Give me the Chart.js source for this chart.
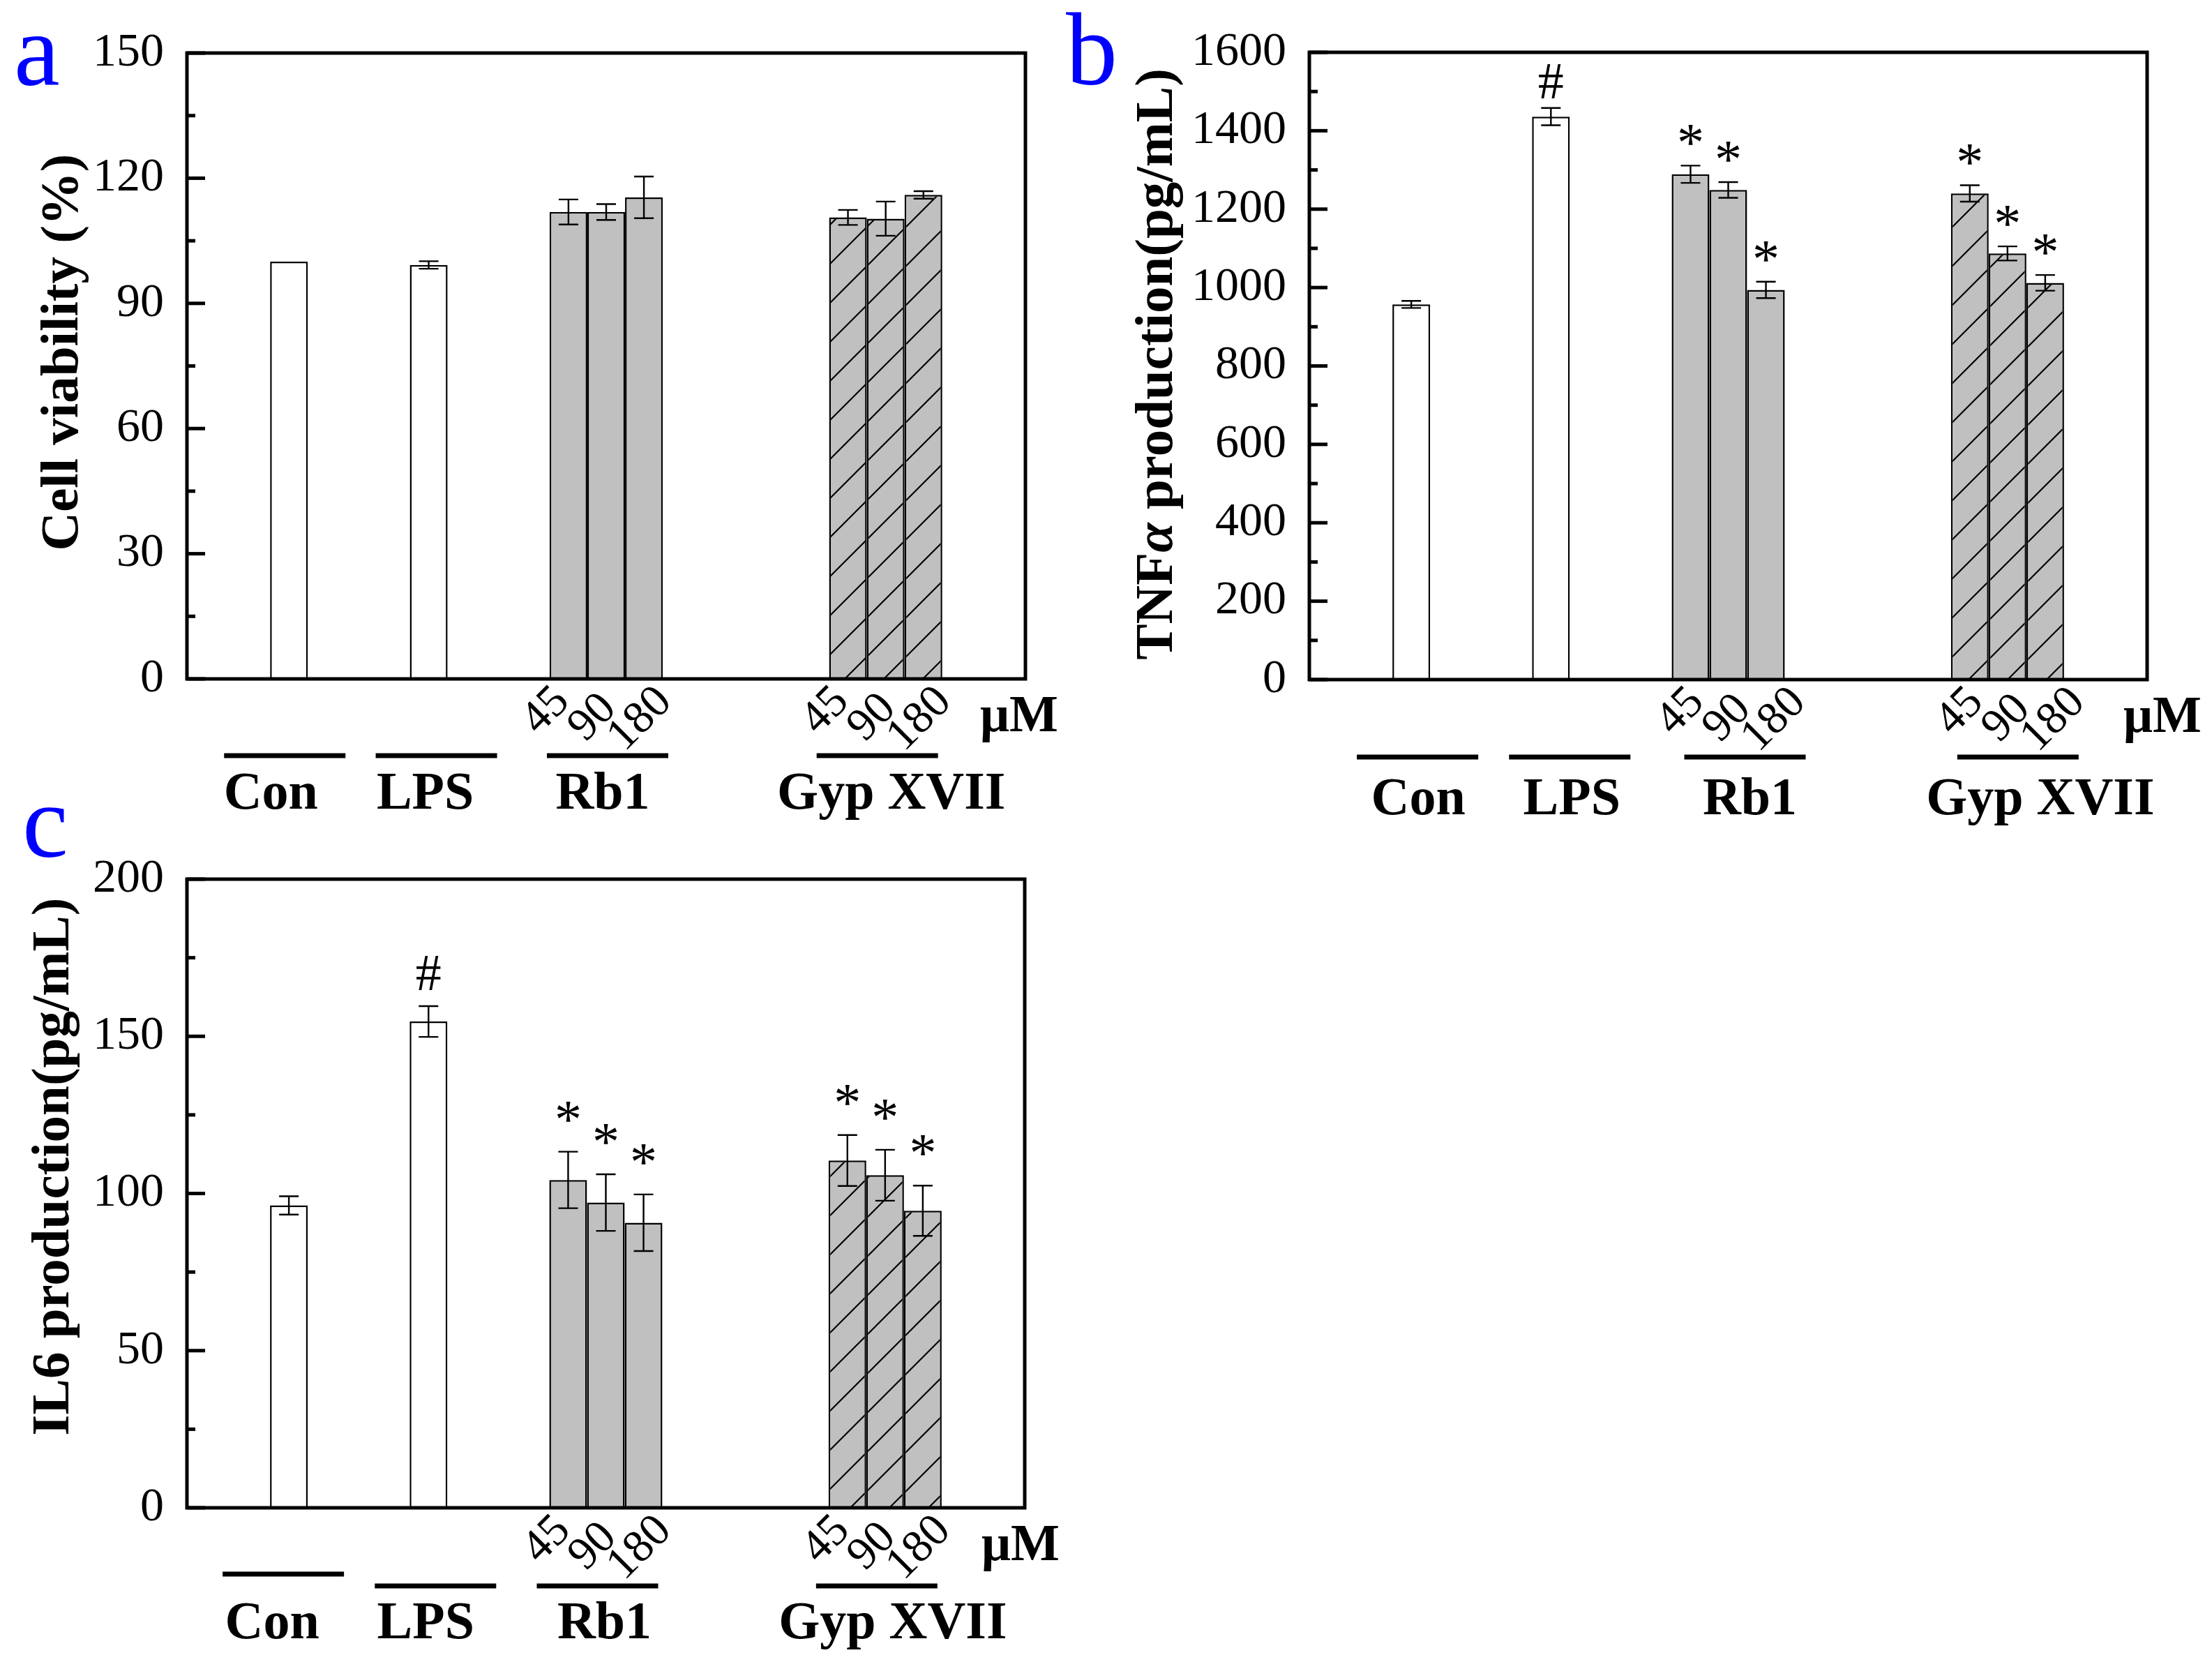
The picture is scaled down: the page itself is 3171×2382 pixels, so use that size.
<!DOCTYPE html>
<html>
<head>
<meta charset="utf-8">
<script src="https://cdn.jsdelivr.net/npm/chart.js@4.4.1/dist/chart.umd.min.js"></script>
<style>
  html, body { margin: 0; padding: 0; background: #fff; }
  body { width: 3171px; height: 2382px; position: relative; overflow: hidden; }
  canvas { position: absolute; }
</style>
</head>
<body>
<canvas id="chart-a" width="1560" height="1180" style="left:0px;top:0px;width:1560px;height:1180px"></canvas>
<canvas id="chart-b" width="1671" height="1200" style="left:1500px;top:0px;width:1671px;height:1200px"></canvas>
<canvas id="chart-c" width="1560" height="1242" style="left:0px;top:1140px;width:1560px;height:1242px"></canvas>
<script>
// x slots: blank slots keep Origin's spacing between the groups
const categories = ["", "Con", "LPS", "Rb1", "", "Gyp XVII", ""];
const groupNames = ["Con", "LPS", "Rb1", "Gyp XVII"];
const doses = ["45", "90", "180"];

// bar order: Con, LPS, Rb1 45/90/180, Gyp XVII 45/90/180
const barGroup = [0, 1, 2, 2, 2, 3, 3, 3];
const barDose = [0, 0, 0, 1, 2, 0, 1, 2];

const viabilityMean = [100, 99.2, 111.9, 111.9, 115.4, 110.6, 110.3, 116.0];
const viabilityErr = [0, 0.9, 3.0, 1.9, 5.0, 1.8, 4.1, 0.9];

const tnfMean = [957, 1436, 1289, 1249, 994, 1240, 1087, 1012];
const tnfErr = [9, 22, 22, 20, 21, 21, 18, 20];
const tnfMarks = ["", "#", "*", "*", "*", "*", "*", "*"];

const il6Mean = [96.2, 154.7, 104.3, 97.1, 90.7, 110.5, 105.8, 94.5];
const il6Err = [2.9, 4.9, 9.0, 9.0, 9.0, 8.1, 8.1, 8.0];
const il6Marks = ["", "#", "*", "*", "*", "*", "*", "*"];

const viabilityTicks = { max: 150, major: 30, minor: 15 };
const tnfTicks = { max: 1600, major: 200, minor: 100 };
const il6Ticks = { max: 200, major: 50, minor: 25 };

const FONT = '"Liberation Serif", "Times New Roman", serif';

function makeHatch() {
    const size = 56;
    const c = document.createElement("canvas");
    c.width = size;
    c.height = size;
    const g = c.getContext("2d");
    g.fillStyle = "#c0c0c0";
    g.fillRect(0, 0, size, size);
    g.strokeStyle = "#000";
    g.lineWidth = 2.2;
    g.beginPath();
    g.moveTo(-4, size + 4); g.lineTo(size + 4, -4);
    g.moveTo(-4, 4); g.lineTo(4, -4);
    g.moveTo(size - 4, size + 4); g.lineTo(size + 4, size - 4);
    g.stroke();
    return g.createPattern(c, "repeat");
}

const hatch = makeHatch();
const groupFill = ["#ffffff", "#ffffff", "#c0c0c0", hatch];

const catOf = (g) => categories.indexOf(groupNames[g]);

// one dataset per dose slot; Con and LPS sit in the first slot
function buildDatasets(mean) {
    return doses.map((d, j) => {
        const values = categories.map(() => null);
        mean.forEach((m, k) => {
            if (barDose[k] === j) values[catOf(barGroup[k])] = m;
        });
        const fills = categories.map((c) => {
            const g = groupNames.indexOf(c);
            return g >= 0 && c !== "" ? groupFill[g] : "rgba(0,0,0,0)";
        });
        return {
            label: d,
            data: values,
            backgroundColor: fills,
            borderColor: "#000",
            borderWidth: 2.5,
            categoryPercentage: 0.81,
            barPercentage: 1.0,
        };
    });
}

function barX(chart, k) {
    return chart.getDatasetMeta(barDose[k]).data[catOf(barGroup[k])].x;
}

const decorPlugin = {
    id: "decor",
    afterDatasetsDraw(chart, args, o) {
        const ctx = chart.ctx;
        const y = chart.scales.y;
        ctx.save();
        ctx.strokeStyle = "#000";
        ctx.fillStyle = "#000";
        ctx.lineWidth = 2.4;
        o.mean.forEach((m, k) => {
            const x = barX(chart, k);
            const e = o.err[k];
            const top = y.getPixelForValue(m + e);
            if (e > 0) {
                const bot = y.getPixelForValue(m - e);
                ctx.beginPath();
                ctx.moveTo(x, top); ctx.lineTo(x, bot);
                ctx.moveTo(x - 14, top); ctx.lineTo(x + 14, top);
                ctx.moveTo(x - 14, bot); ctx.lineTo(x + 14, bot);
                ctx.stroke();
            }
            const mark = o.marks ? o.marks[k] : "";
            if (mark) {
                ctx.font = (mark === "*" ? "78px " : "74px ") + FONT;
                ctx.textAlign = "center";
                ctx.textBaseline = "alphabetic";
                const d = ctx.measureText(mark).actualBoundingBoxDescent;
                ctx.fillText(mark, x, top - o.markGap[mark] - d);
            }
        });
        ctx.restore();
    },
    afterDraw(chart, args, o) {
        const ctx = chart.ctx;
        const area = chart.chartArea;
        const y = chart.scales.y;
        ctx.save();
        ctx.strokeStyle = "#000";
        ctx.fillStyle = "#000";

        // inward ticks on the left axis
        ctx.lineWidth = 5;
        y.ticks.forEach((t, i) => {
            const py = y.getPixelForTick(i);
            const major = Math.abs(t.value % o.major) < 1e-9;
            ctx.beginPath();
            ctx.moveTo(area.left, py);
            ctx.lineTo(area.left + (major ? 26 : 12), py);
            ctx.stroke();
        });
        ctx.strokeRect(area.left, area.top, area.right - area.left, area.bottom - area.top);

        // axis title, rotated, mixed fonts
        ctx.save();
        ctx.translate(o.titleX, o.titleY);
        ctx.rotate(-Math.PI / 2);
        ctx.textAlign = "left";
        ctx.textBaseline = "alphabetic";
        const fonts = o.title.map((p) => (p[1] ? p[1] + " " : "") + "bold 77px " + FONT);
        let total = 0;
        o.title.forEach((p, i) => { ctx.font = fonts[i]; total += ctx.measureText(p[0]).width; });
        let tx = -total / 2;
        o.title.forEach((p, i) => {
            ctx.font = fonts[i];
            ctx.fillText(p[0], tx, 0);
            tx += ctx.measureText(p[0]).width;
        });
        ctx.restore();

        // panel letter
        ctx.fillStyle = "#0000ff";
        ctx.font = "148px " + FONT;
        ctx.textAlign = "left";
        ctx.fillText(o.letter, o.letterX, o.letterY);
        ctx.fillStyle = "#000";

        // dose labels
        ctx.font = "66px " + FONT;
        ctx.textAlign = "center";
        ctx.textBaseline = "middle";
        [2, 3].forEach((g) => {
            doses.forEach((d, j) => {
                const bx = chart.getDatasetMeta(j).data[catOf(g)].x;
                ctx.save();
                ctx.translate(bx + o.doseDx[j], area.bottom + o.doseDy[j]);
                ctx.rotate(-Math.PI / 4);
                ctx.fillText(d, 0, 0);
                ctx.restore();
            });
        });

        // group lines and names
        ctx.font = "bold 76px " + FONT;
        ctx.textBaseline = "alphabetic";
        groupNames.forEach((name, g) => {
            const slot = g < 2 ? 0 : 1;
            const cx = chart.getDatasetMeta(slot).data[catOf(g)].x;
            ctx.fillRect(cx + o.lineDx[g] - 87, area.bottom + o.lineDy[g] - 3.5, 174, 7);
            ctx.fillText(name, cx + o.textDx[g], area.bottom + o.textDy);
        });

        ctx.font = "bold 74px " + FONT;
        ctx.textAlign = "left";
        ctx.fillText("\u03bcM", area.right + o.unitDx, area.bottom + 75);
        ctx.restore();
    },
};

function makeChart(id, mean, err, marks, ticks, panel) {
    return new Chart(document.getElementById(id), {
        type: "bar",
        plugins: [decorPlugin],
        data: { labels: categories, datasets: buildDatasets(mean) },
        options: {
            responsive: false,
            devicePixelRatio: 1,
            animation: false,
            layout: { padding: panel.padding },
            scales: {
                x: { display: false, offset: false, grid: { display: false } },
                y: {
                    min: 0,
                    max: ticks.max,
                    afterFit: (s) => { s.width = panel.yWidth; },
                    grid: { display: false, drawTicks: false },
                    border: { display: false },
                    ticks: {
                        stepSize: ticks.minor,
                        autoSkip: false,
                        padding: 33,
                        color: "#000",
                        font: { family: FONT, size: 68 },
                        callback: (v) => (Math.abs(v % ticks.major) < 1e-9 ? v : ""),
                    },
                },
            },
            plugins: {
                legend: { display: false },
                tooltip: { enabled: false },
                decor: Object.assign({ mean, err, marks, major: ticks.major }, panel),
            },
        },
    });
}

const doseDy = [46, 56, 58];

makeChart("chart-a", viabilityMean, viabilityErr, null, viabilityTicks, {
    padding: { left: 0, top: 76, right: 90, bottom: 207 },
    yWidth: 268,
    title: [["Cell viability (%)", ""]],
    titleX: 111, titleY: 505,
    letter: "a", letterX: 20, letterY: 122,
    doseDx: [-32, -19, -5], doseDy,
    lineDx: [-6, 11, 2, -12], lineDy: [110, 110, 110, 110],
    textDx: [-26, -5, -5, 8], textDy: 186,
    unitDx: -65,
    markGap: {},
});

makeChart("chart-b", tnfMean, tnfErr, tnfMarks, tnfTicks, {
    padding: { left: 0, top: 75, right: 93, bottom: 226 },
    yWidth: 377,
    title: [["TNF", ""], ["\u03b1", "italic"], [" production(pg/mL)", ""]],
    titleX: 180, titleY: 522,
    letter: "b", letterX: 28, letterY: 121,
    doseDx: [-14, -1, 12], doseDy,
    lineDx: [9, 27, 24, 15], lineDy: [111, 111, 111, 111],
    textDx: [10, 30, 31, 47], textDy: 193,
    unitDx: -34,
    markGap: { "#": 14, "*": 29 },
});

makeChart("chart-c", il6Mean, il6Err, il6Marks, il6Ticks, {
    padding: { left: 0, top: 120, right: 91, bottom: 221 },
    yWidth: 268,
    title: [["IL6 production(pg/mL)", ""]],
    titleX: 98, titleY: 532,
    letter: "c", letterX: 32, letterY: 88,
    doseDx: [-30, -18, -5], doseDy,
    lineDx: [-8, 10, -12, -12], lineDy: [95, 112, 112, 112],
    textDx: [-24, -4, -2, 11], textDy: 187,
    unitDx: -62,
    markGap: { "#": 23, "*": 43 },
});
</script>
</body>
</html>
